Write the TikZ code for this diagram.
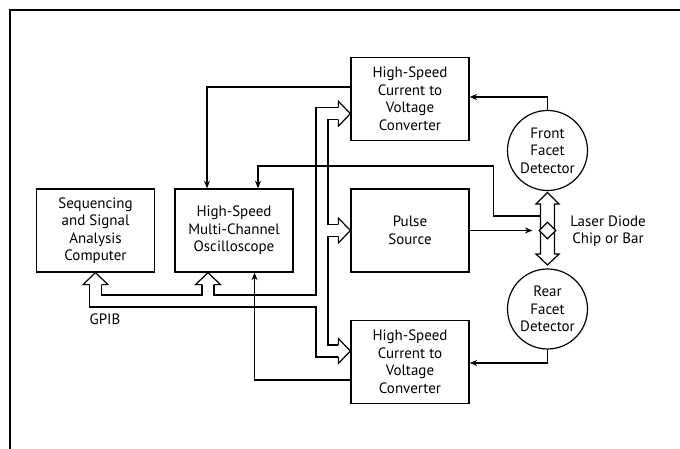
\documentclass[tikz,border=0pt]{standalone}
\usepackage{fontspec}
\setmainfont{PT Sans}
\usetikzlibrary{arrows.meta,shapes.geometric}

\tikzset{
 blk/.style={draw,line width=1.3pt,minimum width=118pt,minimum height=83pt,align=center,inner sep=0pt},
 det/.style={draw,circle,line width=1.2pt,minimum size=80pt,align=center,inner sep=0pt},
 sig/.style={line width=1.1pt,-{Stealth[length=7.5pt,width=6pt]}},
 hollowhead/.pic={\filldraw[fill=white,line width=1.2pt] (-12,6) -- (-12,12.5) -- (0,0) -- (-12,-12.5) -- (-12,-6);}
}

\begin{document}
\begin{tikzpicture}[x=1pt,y=1pt,>=Stealth,font=\fontsize{15}{17.5}\selectfont]
\useasboundingbox (0,0) rectangle (680,449);
% frame
\draw[line width=2pt] (9.5,0) -- (9.5,439) -- (680,439);

% blocks
\node[blk] (conv1) at (410,350) {High-Speed\\Current to\\Voltage\\Converter};
\node[blk] (comp) at (95.5,218.5) {Sequencing\\and Signal\\Analysis\\Computer};
\node[blk] (osc) at (234,218.5) {High-Speed\\Multi-Channel\\Oscilloscope};
\node[blk] (pulse) at (410,218.5) {Pulse\\Source};
\node[blk] (conv2) at (410,87) {High-Speed\\Current to\\Voltage\\Converter};
\node[det] (front) at (547.5,298.5) {Front\\Facet\\Detector};
\node[det] (rear) at (547.5,140) {Rear\\Facet\\Detector};
\node[align=center] (laser) at (608,218) {Laser Diode\\Chip or Bar};
\node (gpib) at (105,130) {GPIB};

% laser bar: double arrow with chip
\coordinate (ltop) at (547.5,256.5);
\filldraw[fill=white,line width=1.2pt] (ltop) -- ++(11.5,-11.5) -- ++(-4.5,0) -- ++(0,-50) -- ++(4.5,0) -- ++(-11.5,-11) -- ++(-11.5,11) -- ++(4.5,0) -- ++(0,50) -- ++(-4.5,0) -- cycle;
\node[draw,diamond,fill=white,minimum size=17pt,inner sep=0pt,line width=1.2pt] (chip) at (547.5,218.5) {};
\coordinate (lf) at (540.5,233);

% GPIB bus
\foreach \c/\lw in {black/13.2pt,white/10.8pt}
 \draw[\c,line width=\lw] (95.5,165) -- (95.5,148) -- (322,148)
  (208,165) -- (208,148)
  (339,335.3) -- (322,335.3) -- (322,98) -- (339,98)
  (322,218.5) -- (339,218.5);
\pic[rotate=90] at (comp.south) {hollowhead};
\pic[rotate=90] at ([xshift=-26pt]osc.south) {hollowhead};
\pic at ([yshift=-14.7pt]conv1.west) {hollowhead};
\pic at (pulse.west) {hollowhead};
\pic at ([yshift=11pt]conv2.west) {hollowhead};

% signals
\draw[sig] ([yshift=12pt]conv1.west) -| ([xshift=-27pt]osc.north);
\draw[sig] (lf) -- (493.3,233) -- (493.3,283) -| ([xshift=24pt]osc.north);
\draw[sig] (pulse.east) -- ([xshift=-6pt]chip.west);
\draw[sig] (front.north) |- ([yshift=2pt]conv1.east);
\draw[sig] (rear.south) |- ([yshift=-1pt]conv2.east);
\draw[sig] ([yshift=-18pt]conv2.west) -| ([xshift=20.5pt]osc.south);
\end{tikzpicture}
\end{document}
